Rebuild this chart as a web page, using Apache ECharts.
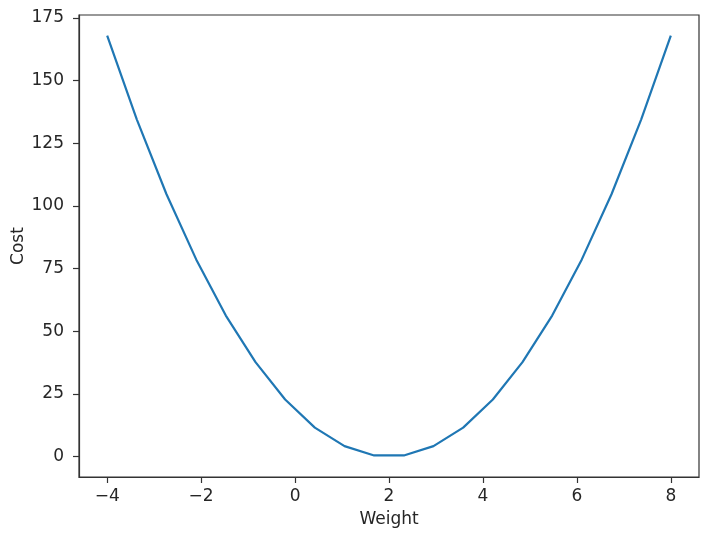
<!DOCTYPE html>
<html>
<head>
<meta charset="utf-8">
<script src="https://cdn.jsdelivr.net/npm/echarts@6/dist/echarts.min.js"></script>
<style>html,body{margin:0;padding:0;background:#fff}#c{width:708px;height:537px}</style>
</head>
<body>
<div id="c"></div>
<script>
const weights = [-4.000, -3.368, -2.737, -2.105, -1.474, -0.842, -0.211, 0.421, 1.053, 1.684,
                 2.316, 2.947, 3.579, 4.211, 4.842, 5.474, 6.105, 6.737, 7.368, 8.000];
const costs = [168.0, 134.5, 104.7, 78.7, 56.3, 37.7, 22.8, 11.6, 4.2, 0.5,
               0.5, 4.2, 11.6, 22.8, 37.7, 56.3, 78.7, 104.7, 134.5, 168.0];
const xTicks = [-4, -2, 0, 2, 4, 6, 8];
const yTicks = [0, 25, 50, 75, 100, 125, 150, 175];

const font = 'DejaVu Sans';
const txt = '#262626';
const chart = echarts.init(document.getElementById('c'), null, {renderer: 'canvas'});
chart.setOption({
  animation: false,
  backgroundColor: '#fff',
  grid: {left: 79, right: 9, top: 15, bottom: 60, containLabel: false, outerBoundsMode: 'none',
    show: true, borderColor: '#333', borderWidth: 1.2, backgroundColor: 'transparent'},
  xAxis: {
    type: 'value', min: -4.6, max: 8.6,
    name: 'Weight', nameLocation: 'middle', nameGap: 34, nameMoveOverlap: false,
    nameTextStyle: {fontFamily: font, fontSize: 17, color: txt},
    axisLine: {show: true, onZero: false, lineStyle: {color: '#333', width: 1.2}},
    axisTick: {show: true, length: 6, customValues: xTicks, lineStyle: {color: '#333', width: 1.2}},
    axisLabel: {customValues: xTicks, margin: 11, fontFamily: font, fontSize: 17, color: txt,
      formatter: v => String(v).replace('-', '\u2212')},
    splitLine: {show: false}
  },
  yAxis: {
    type: 'value', min: -8.1, max: 176.2,
    name: 'Cost', nameLocation: 'middle', nameGap: 52, nameMoveOverlap: false,
    nameTextStyle: {fontFamily: font, fontSize: 17, color: txt},
    axisLine: {show: true, onZero: false, lineStyle: {color: '#333', width: 1.2}},
    axisTick: {show: true, length: 6, customValues: yTicks, lineStyle: {color: '#333', width: 1.2}},
    axisLabel: {customValues: yTicks, margin: 15, fontFamily: font, fontSize: 17, color: txt},
    splitLine: {show: false}
  },
  series: [{
    type: 'line',
    data: weights.map((w, i) => [w, costs[i]]),
    showSymbol: false,
    lineStyle: {color: '#1f77b4', width: 2.2},
    itemStyle: {color: '#1f77b4'}
  }]
});
</script>
</body>
</html>
